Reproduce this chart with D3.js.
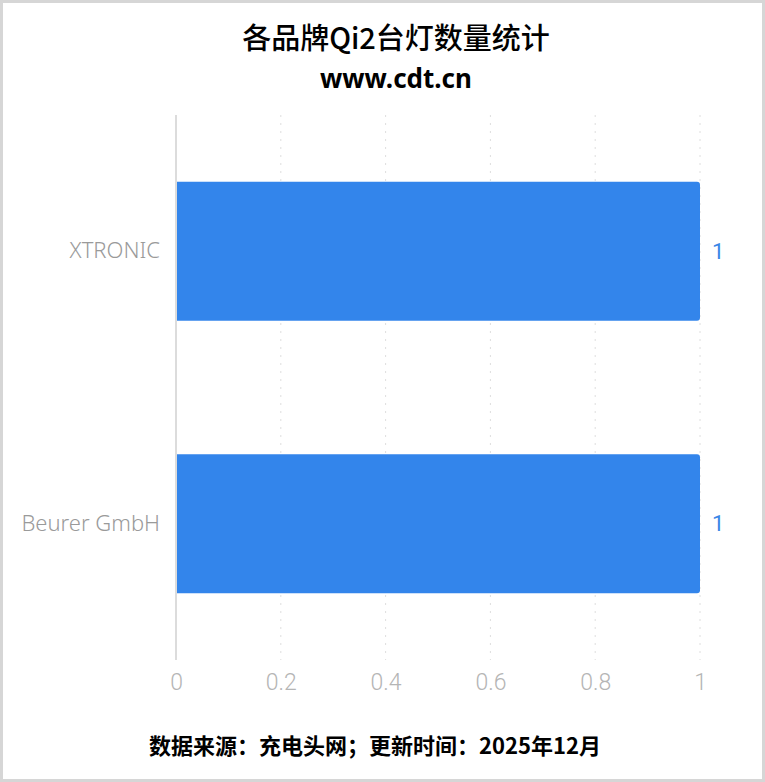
<!DOCTYPE html>
<html>
<head>
<meta charset="utf-8">
<script src="https://cdn.jsdelivr.net/npm/d3@7"></script>
<style>
  html, body { margin: 0; padding: 0; background: #fff; }
  #chart { width: 765px; height: 782px; }
</style>
</head>
<body>
<div id="chart"></div>
<script>
const brands = ["XTRONIC", "Beurer GmbH"];
const counts = [1, 1];
const xTicks = [0, 0.2, 0.4, 0.6, 0.8, 1];

const width = 765;
const height = 782;
const margin = { top: 115, right: 65, bottom: 122, left: 176 };

const svg = d3.select("#chart").append("svg")
    .attr("width", width)
    .attr("height", height);

// outer frame
svg.append("rect")
    .attr("x", 1.5).attr("y", 1.5)
    .attr("width", width - 3).attr("height", height - 3)
    .attr("fill", "#fff")
    .attr("stroke", "#d6d6d6")
    .attr("stroke-width", 3);

const x = d3.scaleLinear().domain([0, 1]).range([margin.left, width - margin.right]);
const y = d3.scaleBand().domain(brands).range([margin.top, height - margin.bottom]).paddingInner(0.49).paddingOuter(0.245);

// dotted grid
svg.append("g")
    .selectAll("line")
    .data(xTicks.slice(1))
    .join("line")
    .attr("x1", d => x(d)).attr("x2", d => x(d))
    .attr("y1", margin.top).attr("y2", height - margin.bottom)
    .attr("stroke", "#dedede")
    .attr("stroke-dasharray", "2,6");

// y axis line
svg.append("line")
    .attr("x1", x(0)).attr("x2", x(0))
    .attr("y1", margin.top).attr("y2", height - margin.bottom)
    .attr("stroke", "#d0d0d0")
    .attr("stroke-width", 1.5);

// x tick labels
const xAxis = svg.append("g")
    .attr("transform", `translate(0,${height - margin.bottom})`)
    .call(d3.axisBottom(x).tickValues(xTicks).tickSize(0).tickPadding(14).tickFormat(d3.format("~g")));
xAxis.select(".domain").remove();
xAxis.selectAll("text")
    .attr("fill", "#b5b5b5")
    .style("font-family", "Roboto, 'Noto Sans', sans-serif")
    .style("font-size", "23px")
    .style("font-weight", 300);

// y category labels
const yAxis = svg.append("g")
    .attr("transform", `translate(${margin.left},0)`)
    .call(d3.axisLeft(y).tickSize(0).tickPadding(16));
yAxis.select(".domain").remove();
yAxis.selectAll("text")
    .attr("fill", "#9a9a9a")
    .style("font-family", "'Noto Sans', 'Open Sans', sans-serif")
    .style("font-size", "22px")
    .style("font-weight", 300);

// bars with rounded right corners
const r = 3;
svg.append("g")
    .selectAll("path")
    .data(brands)
    .join("path")
    .attr("fill", "#3385eb")
    .attr("d", (d, i) => {
        const x0 = x(0) + 1, x1 = x(counts[i]), y0 = y(d), h = y.bandwidth();
        return `M${x0},${y0}H${x1 - r}Q${x1},${y0} ${x1},${y0 + r}V${y0 + h - r}Q${x1},${y0 + h} ${x1 - r},${y0 + h}H${x0}Z`;
    });

// value labels
svg.append("g")
    .selectAll("text")
    .data(brands)
    .join("text")
    .attr("x", (d, i) => x(counts[i]) + 12)
    .attr("y", d => y(d) + y.bandwidth() / 2)
    .attr("dy", "0.35em")
    .attr("fill", "#3a86e6")
    .style("font-family", "Roboto, 'Noto Sans', sans-serif")
    .style("font-size", "22px")
    .text((d, i) => counts[i]);

// titles
svg.append("text")
    .attr("x", 396).attr("y", 49)
    .attr("text-anchor", "middle")
    .style("font-family", "'Noto Sans CJK SC', sans-serif")
    .style("font-size", "29px")
    .style("font-weight", 500)
    .attr("fill", "#000")
    .text("各品牌Qi2台灯数量统计");

svg.append("text")
    .attr("x", 396).attr("y", 88)
    .attr("text-anchor", "middle")
    .style("font-family", "'Noto Sans', 'Open Sans', sans-serif")
    .style("font-size", "26px")
    .style("font-weight", 700)
    .attr("fill", "#000")
    .text("www.cdt.cn");

svg.append("text")
    .attr("x", 375).attr("y", 754)
    .attr("text-anchor", "middle")
    .style("font-family", "'Noto Sans CJK SC', sans-serif")
    .style("font-size", "22px")
    .style("font-weight", 700)
    .attr("fill", "#000")
    .text("数据来源：充电头网；更新时间：2025年12月");
</script>
</body>
</html>
